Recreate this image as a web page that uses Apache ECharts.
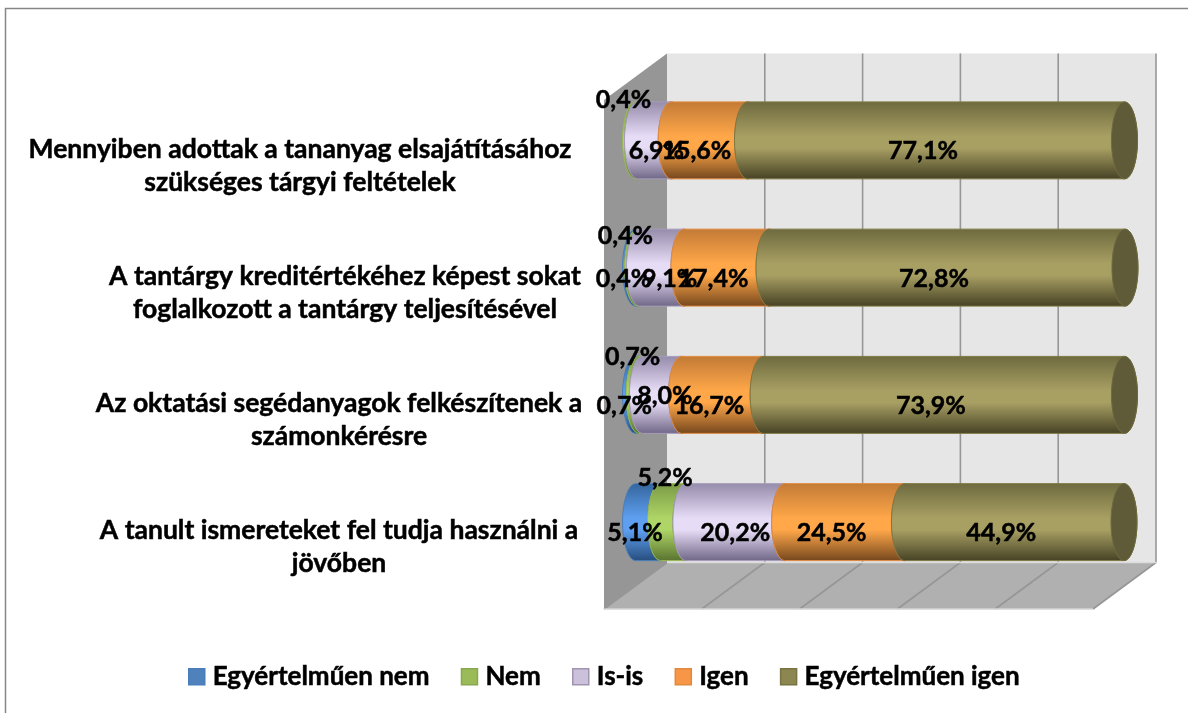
<!DOCTYPE html>
<html>
<head>
<meta charset="utf-8">
<style>html,body{margin:0;padding:0;background:#fff}#c{width:1188px;height:713px}</style>
<script src="https://cdn.jsdelivr.net/npm/echarts@6/dist/echarts.min.js"></script>
</head>
<body>
<div id="c"></div>
<script>
// Data (top to bottom as displayed; axis is inverse)
const categories = [
  'Mennyiben adottak a tananyag elsajátításához\nszükséges tárgyi feltételek',
  'A tantárgy kreditértékéhez képest sokat\nfoglalkozott a tantárgy teljesítésével',
  'Az oktatási segédanyagok felkészítenek a\nszámonkérésre',
  'A tanult ismereteket fel tudja használni a\njövőben'
];
const seriesNames = ['Egyértelműen nem', 'Nem', 'Is-is', 'Igen', 'Egyértelműen igen'];
const egyertelmuenNem = [0, 0.4, 0.7, 5.1];
const nem = [0.4, 0.4, 0.7, 5.2];
const isIs = [6.9, 9.1, 8.0, 20.2];
const igen = [15.6, 17.4, 16.7, 24.5];
const egyertelmuenIgen = [77.1, 72.8, 73.9, 44.9];
const xTicks = [0, 20, 40, 60, 80, 100];
const seriesValues = [egyertelmuenNem, nem, isIs, igen, egyertelmuenIgen];

// Styles
const FONT = 'Lato, "Noto Sans", sans-serif';
const palette = [
  {top:'#34659c', mid:'#5e9ff0', bot:'#264d7c', line:'#4a7ebb', cap:'#335e90', swatch:'#4f81bd', swatchLine:'#4a7ebb'},
  {top:'#7a9a45', mid:'#aed566', bot:'#58722f', line:'#98b954', cap:'#64803a', swatch:'#9bbb59', swatchLine:'#8aa84f'},
  {top:'#958baa', mid:'#e6dcf6', bot:'#6f6686', line:'#a79cbb', cap:'#7a7090', swatch:'#ccc1da', swatchLine:'#a094b2'},
  {top:'#c27a36', mid:'#ffa749', bot:'#74461d', line:'#e08a3e', cap:'#9a5e28', swatch:'#f79646', swatchLine:'#e08a3e'},
  {top:'#6e6a3f', mid:'#a89f63', bot:'#454124', line:'#7d7843', cap:'#5f5b38', swatch:'#8c8750', swatchLine:'#777342'}
];
const depth = {x: 63, y: -46.5};          // floor/wall depth vector
const midPlane = {x: 31.5, y: -23.25};    // bars sit half way back
const barRatio = 0.605, capRx = 13;
const frontOffset = {x: -13, y: 11};      // labels sit on the cylinder's near surface
// Hand-placed label nudges in the original chart [series][row] = [dx, dy]
const labelNudges = {
  1: [[0,-51],[0,-43],[5,-49],[5,-55]],
  2: [[15,0],[21,0],[16,-10],[13,0]]
};
const pct = v => v.toFixed(1).replace('.', ',') + '%';

function wallsItem(params, api) {
  const p = (x, cat) => api.coord([x, cat]);
  const xmin = p(0, 0)[0], xmax = p(100, 0)[0];
  const top = params.coordSys.y, bot = params.coordSys.y + params.coordSys.height;
  const dx = depth.x, dy = depth.y;
  const poly = (pts, fill) => ({type:'polygon', shape:{points:pts}, style:{fill, stroke:null}, silent:true});
  const line = (a, b) => ({type:'line', shape:{x1:a[0],y1:a[1],x2:b[0],y2:b[1]},
    style:{stroke:'#969696', lineWidth:1.6}, silent:true});
  const children = [
    poly([[xmin+dx,top+dy],[xmax+dx,top+dy],[xmax+dx,bot+dy],[xmin+dx,bot+dy]], '#e6e6e6'),
    poly([[xmin,top],[xmin+dx,top+dy],[xmin+dx,bot+dy],[xmin,bot]], '#969696'),
    poly([[xmin,bot],[xmin+dx,bot+dy],[xmax+dx,bot+dy],[xmax,bot]], '#b0b0b0')
  ];
  xTicks.forEach(t => {
    const x = p(t, 0)[0];
    if (t > 0) children.push(line([x+dx, top+dy], [x+dx, bot+dy]));
    children.push(line([x, bot], [x+dx, bot+dy]));
  });
  children.push({type:'line', shape:{x1:xmin,y1:bot,x2:xmax,y2:bot}, style:{stroke:'#d4d4d4', lineWidth:1.5}, silent:true});
  children.push({type:'line', shape:{x1:xmin+dx,y1:bot+dy,x2:xmax+dx,y2:bot+dy}, style:{stroke:'#dcdcdc', lineWidth:1.5}, silent:true});
  return {type:'group', children};
}

function cylinderItem(si) {
  return function (params, api) {
    const row = api.value(0), start = api.value(1), end = api.value(2), val = api.value(3);
    if (val <= 0) return {type:'group', children:[]};
    const c = palette[si];
    const a = api.coord([start, row]), b = api.coord([end, row]);
    const ry = api.size([0, 1])[1] * barRatio / 2;
    const x0 = a[0] + midPlane.x, x1 = b[0] + midPlane.x, y = a[1] + midPlane.y;
    const rx = capRx;
    const body = `M${x0} ${y-ry}L${x1} ${y-ry}A${rx} ${ry} 0 0 1 ${x1} ${y+ry}L${x0} ${y+ry}A${rx} ${ry} 0 0 1 ${x0} ${y-ry}Z`;
    const grad = new echarts.graphic.LinearGradient(0, 0, 0, 1, [
      {offset:0, color:c.top},{offset:0.45, color:c.mid},{offset:0.6, color:c.mid},{offset:1, color:c.bot}
    ]);
    const nudge = (labelNudges[si] || [])[row] || [0, 0];
    return {type:'group', children:[
      {type:'path', shape:{pathData:body}, z2:si*2,
       style:{fill:grad, stroke:c.line, lineWidth:1}},
      {type:'ellipse', shape:{cx:x1, cy:y, rx, ry}, z2:si*2+1,
       style:{fill:c.cap, stroke:c.top, lineWidth:1}},
      {type:'text', z2:100+si, silent:true,
       style:{text:pct(val), x:(x0+x1)/2 + frontOffset.x + nudge[0], y:y + frontOffset.y + nudge[1],
              align:'center', verticalAlign:'middle', fill:'#000', stroke:'#000', lineWidth:0.5,
              font:'bold 25px ' + FONT}}
    ]};
  };
}

function stackedData(si) {
  return categories.map((_, row) => {
    let start = 0;
    for (let k = 0; k < si; k++) start += seriesValues[k][row];
    return [row, start, start + seriesValues[si][row], seriesValues[si][row]];
  });
}

const labelStyle = {fontFamily:FONT, fontWeight:'bold', fontSize:26.5, lineHeight:33, color:'#000', textBorderColor:'#000', textBorderWidth:0.5};
const labelStyleKeys = ['wide', 'shifted', 'plain', 'plain'];

const chart = echarts.init(document.getElementById('c'), null, {renderer:'canvas'});
chart.setOption({
  backgroundColor:'#fff',
  animation:false,
  graphic:[{type:'rect', shape:{x:5.5,y:8.5,width:1200,height:720}, silent:true, z:0,
            style:{fill:'none', stroke:'#868686', lineWidth:1.5}}],
  grid:{left:604, top:100, width:489, height:509},
  xAxis:{type:'value', min:0, max:100, interval:20, show:false},
  yAxis:{type:'category', inverse:true, data:categories,
    axisLine:{show:false}, axisTick:{show:false},
    axisLabel:{align:'center', margin:265, padding:[4,0,0,0], fontFamily:FONT, fontWeight:'bold', fontSize:26.5, color:'#000',
      formatter:(v, i) => v.split('\n').map(l => `{${labelStyleKeys[i]}|${l}}`).join('\n'),
      rich:{plain:labelStyle,
            wide:Object.assign({}, labelStyle, {padding:[0,78,0,0]}),
            shifted:Object.assign({}, labelStyle, {padding:[0,0,0,12]})}}},
  legend:{bottom:18, left:183, icon:'rect', itemWidth:16, itemHeight:16, itemGap:31,
    textStyle:{fontFamily:FONT, fontWeight:'bold', fontSize:26, color:'#000', padding:[0,0,0,3], textBorderColor:'#000', textBorderWidth:0.5},
    data:seriesNames.map((name,i)=>({name, itemStyle:{color:palette[i].swatch, borderColor:palette[i].swatchLine, borderWidth:1.5}}))},
  series:[
    {type:'custom', name:'walls', z:1, silent:true, renderItem:wallsItem, coordinateSystem:'cartesian2d', data:[[0,0]], encode:{x:0,y:1}},
    ...seriesNames.map((name,si)=>({
      type:'custom', name, z:2, coordinateSystem:'cartesian2d', renderItem:cylinderItem(si),
      itemStyle:{color:palette[si].swatch},
      encode:{x:[1,2], y:0}, data:stackedData(si)
    }))
  ]
});
</script>
</body>
</html>
